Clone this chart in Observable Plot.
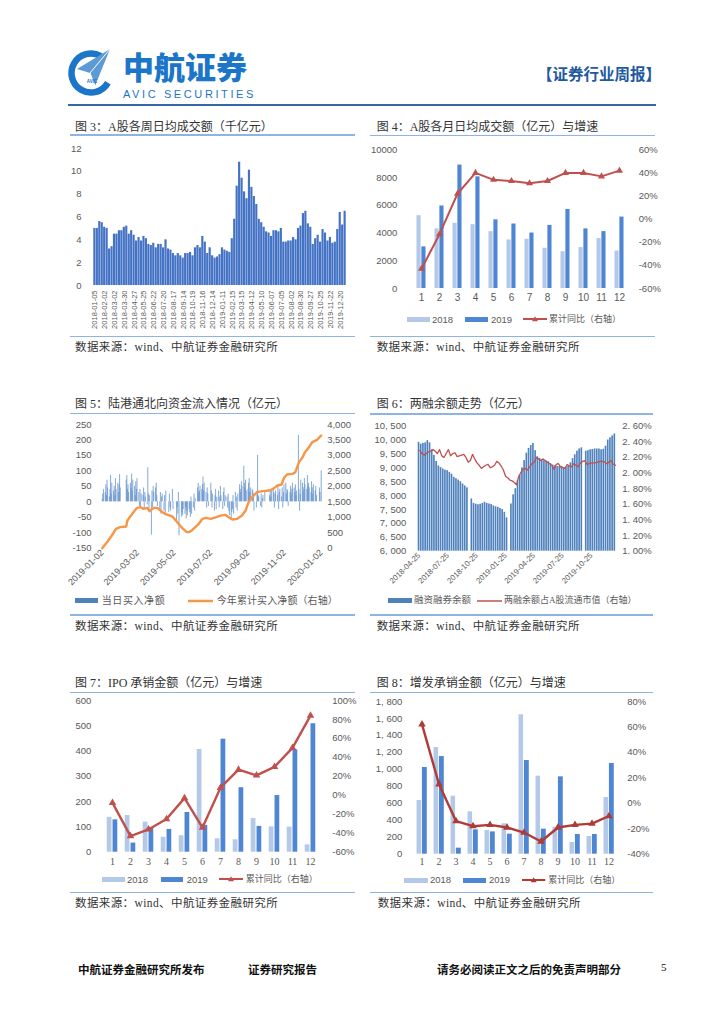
<!DOCTYPE html>
<html><head><meta charset="utf-8">
<script src="https://cdn.jsdelivr.net/npm/d3@7"></script>
<script src="https://cdn.jsdelivr.net/npm/@observablehq/plot@0.6"></script>
<style>
body{margin:0;background:#fff;}
#page{position:relative;width:724px;height:1024px;overflow:hidden;background:#fff;}
</style></head>
<body><div id="page"></div>
<script>
// ---------- DATA ----------
// Fig 3: weekly average turnover (千亿元)
const weeklyTurnover = [5.0,5.0,5.6,5.5,5.1,5.0,3.2,3.4,4.5,4.5,
 4.8,4.8,5.1,5.2,4.5,4.8,4.4,3.9,4.2,3.9,
 4.3,4.1,3.6,3.5,3.7,3.3,3.6,3.6,3.3,4.0,
 3.2,3.1,2.8,2.6,2.8,2.6,2.4,2.8,2.8,2.9,
 2.6,3.3,3.5,3.3,4.3,3.8,2.8,3.3,2.6,2.4,
 2.5,2.7,3.3,3.1,3.0,2.9,4.1,5.8,8.7,10.8,
 9.4,8.2,7.6,10.1,8.6,7.8,7.1,5.8,5.5,5.1,
 4.7,4.6,4.3,4.8,4.8,4.7,5.0,3.8,3.8,3.9,
 3.9,4.2,4.0,5.0,5.2,6.3,6.5,5.4,5.1,3.6,
 4.1,4.4,3.8,4.9,4.6,3.9,4.2,3.7,3.8,4.9,
 6.4,5.3,6.5];
const weekTickLabels = ["2018-01-05","2018-02-02","2018-03-02","2018-03-30","2018-04-27","2018-05-25","2018-06-22","2018-07-20","2018-08-17","2018-09-14","2018-10-19","2018-11-16","2018-12-14","2019-01-11","2019-02-15","2019-03-15","2019-04-12","2019-05-10","2019-06-07","2019-07-05","2019-08-02","2019-08-30","2019-09-27","2019-10-25","2019-11-22","2019-12-20"];

// Fig 4: monthly average turnover (亿元) and cumulative YoY (%)
const months = [1,2,3,4,5,6,7,8,9,10,11,12];
const turnover2018 = [5250,4300,4700,4600,4100,3500,3550,2900,2650,2950,3600,2700];
const turnover2019 = [3000,5950,8900,8050,4950,4650,4000,4550,5700,4300,4100,5150];
const turnoverYoY = [-43,-13,22,40,34,33,31,33,40,40,37,42];

// Fig 5: northbound daily net buying (亿元), weekdays from 2019-01-02
const nbDaily = [8,25,40,
 30,55,20,70,45, 15,40,85,25,60, 35,50,20,75,40, 60,30,55,88,45, 0,0,0,0,0,
 70,85,40,55,30, 60,45,90,35,70, 50,20,65,40,75, 30,-15,40,-20,25, 20,45,-25,30,15,
 -10,110,25,-30,20, -108,35,-20,50,30, 45,60,20,-15,0, -25,30,-40,15,25, -30,20,-45,35,0,
 0,-35,25,-20,-30, 40,-25,0,0,0, -65,-20,-40,30,-110, 0,-50,-35,-45,-25, -40,-20,-55,-30,-45,
 -25,-35,-50,15,-40, -20,25,-30,10,0, 45,60,30,35,50, 40,55,80,35,60, 30,-20,45,25,-15,
 0,60,35,-20,25, -30,20,40,-25,15, 35,-20,15,50,20, -25,30,45,-15,20, 15,-20,25,-30,-45,
 -60,-35,-25,20,-40, 30,-20,15,-30,25, 55,40,30,65,50, 115,60,45,70,35, 40,60,75,30,45,
 40,35,25,-30,0, -20,30,150,20,15, -15,25,-20,10,20, 30,0,0,0,0, 0,20,35,15,40,
 45,30,-20,25,35, 20,50,-25,30,40, 15,45,-20,30,55, 60,25,40,35,-15, 30,50,25,40,60,
 45,30,55,20,35, 215,40,-30,25,70, 60,45,35,75,55, 40,85,50,60,45, 30,65,45,25,55,
 35,50,20,0,0, 45,30,0,100];
const nbCumDates = ["2019-01-02","2019-01-10","2019-01-18","2019-01-25","2019-02-01","2019-02-11","2019-02-13","2019-02-21","2019-03-01","2019-03-07","2019-03-12","2019-03-18","2019-03-22","2019-03-29","2019-04-04","2019-04-12","2019-04-19","2019-04-29","2019-05-07","2019-05-15","2019-05-23","2019-05-27","2019-05-31","2019-06-06","2019-06-12","2019-06-18","2019-06-24","2019-07-02","2019-07-10","2019-07-18","2019-07-26","2019-08-01","2019-08-07","2019-08-15","2019-08-23","2019-08-29","2019-09-03","2019-09-09","2019-09-17","2019-09-26","2019-10-08","2019-10-14","2019-10-21","2019-10-28","2019-11-01","2019-11-06","2019-11-15","2019-11-20","2019-11-26","2019-12-02","2019-12-06","2019-12-12","2019-12-18","2019-12-26","2020-01-02"];
const nbCumValues = [0,194,410,625,680,700,895,1110,1305,1326,1272,1305,1197,1305,1305,1165,1090,1025,840,660,520,520,570,680,790,950,980,950,1000,1055,1078,1000,927,950,1055,1218,1488,1650,1811,1844,1865,1920,2027,2059,2275,2383,2404,2458,2782,2943,3105,3245,3428,3504,3644];
const nbTickDates = ["2019-01-02","2019-03-02","2019-05-02","2019-07-02","2019-09-02","2019-11-02","2020-01-02"];

// Fig 6: margin balance (亿元), weekly from 2018-04-27, and ratio to float cap (%)
const marginBalance = [9920,9850,9880,9900,9980,9900,9650,9450,9230,9070,
 9010,8960,8920,8900,8840,8770,8660,8610,8560,8500,
 8420,8350,8280,null,7880,7720,7690,7670,7690,7720,
 7760,7720,7700,7680,7630,7600,7580,7540,7500,7400,
 7200,null,7700,8030,8250,8540,8740,9000,9260,9530,
 9700,9800,9880,9620,9400,9340,9300,9260,9240,9220,
 9150,9100,9080,9050,9050,9050,9000,9010,9060,9180,
 9330,9470,9600,9680,9720,null,9600,9620,9650,9660,
 9680,9680,9680,9650,9670,9780,10000,10080,10150,10220];
const marginRatio = [2.29,2.25,2.23,2.25,2.27,2.28,2.30,2.28,2.25,2.30,
 2.22,2.20,2.25,2.30,2.22,2.25,2.26,2.21,2.22,2.23,
 2.24,2.20,2.14,2.16,2.24,2.18,2.13,2.10,2.06,2.08,
 2.10,2.11,2.07,2.08,2.10,2.15,2.13,2.09,2.04,1.96,
 1.94,1.91,1.90,1.88,1.85,1.96,2.01,2.05,2.06,2.04,
 2.08,2.12,2.14,2.20,2.18,2.16,2.18,2.16,2.14,2.12,
 2.10,2.05,2.11,2.12,2.08,2.07,2.06,2.11,2.09,2.08,
 2.12,2.10,2.08,2.13,2.15,2.16,2.11,2.12,2.13,2.13,
 2.13,2.14,2.15,2.15,2.14,2.12,2.14,2.16,2.11,2.10];
const marginTickDates = ["2018-04-25","2018-07-25","2018-10-25","2019-01-25","2019-04-25","2019-07-25","2019-10-25"];

// Fig 7: IPO underwriting (亿元) and cumulative YoY (%)
const ipo2018 = [138,145,119,59,65,406,53,49,133,100,99,29];
const ipo2019 = [128,36,96,90,157,106,447,255,102,224,405,508];
const ipoYoY = [-8,-43,-36,-25,-3,-34,8,27,21,30,50,84];

// Fig 8: follow-on underwriting (亿元) and cumulative YoY (%)
const seo2018 = [633,1257,684,499,279,358,1643,920,318,138,208,668];
const seo2019 = [1022,1151,71,287,263,236,1104,295,912,232,232,1069];
const seoYoY = [62,15,-14,-18,-17,-19,-23,-30,-19,-17,-16,-10];

// ---------- HELPERS ----------
const page = document.getElementById("page");
const CJK = "'Liberation Serif','Noto Sans CJK SC',serif";
const SANS = "'Liberation Sans',Arial,'Noto Sans CJK SC',sans-serif";
const LIGHT = "#b4c8e8", DARK = "#4e86d4", RED = "#c0504d";
function el(tag, css, txt) { const e = document.createElement(tag); e.style.cssText = css; if (txt != null) e.textContent = txt; page.appendChild(e); return e; }
function text(x, yc, s, size, o = {}) {
  const lh = size * (o.lh || 1.2);
  return el("div", `position:absolute;left:${x}px;top:${yc - lh / 2}px;font-size:${size}px;line-height:${lh}px;white-space:nowrap;font-family:${o.font || CJK};color:${o.color || "#333"};letter-spacing:${o.ls || 0}px;font-weight:${o.weight || 400}`, s);
}
function hrule(x1, x2, y, h, color) { el("div", `position:absolute;left:${x1}px;top:${y - h / 2}px;width:${x2 - x1}px;height:${h}px;background:${color}`); }
function sw(x, yc, w, h, color) { el("div", `position:absolute;left:${x}px;top:${yc - h / 2}px;width:${w}px;height:${h}px;background:${color}`); }
function lineSw(x1, x2, yc, color, w, tri) {
  const ns = "http://www.w3.org/2000/svg";
  const s = document.createElementNS(ns, "svg");
  s.setAttribute("width", x2 - x1); s.setAttribute("height", 10);
  s.style.cssText = `position:absolute;left:${x1}px;top:${yc - 5}px;overflow:visible`;
  const l = document.createElementNS(ns, "line");
  l.setAttribute("x1", 0); l.setAttribute("x2", x2 - x1); l.setAttribute("y1", 5); l.setAttribute("y2", 5);
  l.setAttribute("stroke", color); l.setAttribute("stroke-width", w);
  s.appendChild(l);
  if (tri) {
    const m = (x2 - x1) / 2, p = document.createElementNS(ns, "path");
    p.setAttribute("d", `M${m},2.2 L${m + 3},7.3 L${m - 3},7.3 Z`); p.setAttribute("fill", color);
    s.appendChild(p);
  }
  page.appendChild(s);
}
function place(svg, x, y) { svg.style.position = "absolute"; svg.style.left = x + "px"; svg.style.top = y + "px"; page.appendChild(svg); }
const baseStyle = {fontFamily: SANS, fontSize: "9.5px", color: "#595959", background: "transparent", overflow: "visible"};
const num = d => String(Math.round(d));
const pct = d => Math.round(d) + "%";
const commaSp = d => d3.format(",")(d).replace(",", ", ");
const parseD = d3.timeParse("%Y-%m-%d");
const fmtD = d3.timeFormat("%Y-%m-%d");

// ---------- HEADER ----------
(function header() {
  const ns = "http://www.w3.org/2000/svg";
  const s = document.createElementNS(ns, "svg");
  s.setAttribute("width", 60); s.setAttribute("height", 60);
  s.style.cssText = "position:absolute;left:62px;top:42px";
  s.innerHTML = `<path d="M38.75,14.1 A19.5,19.5 0 1 0 45.9,40.75" fill="none" stroke="#1b75c8" stroke-width="6.5"/>
  <polygon points="48,7 15,27 28,31 33,44" fill="#5e9ad6"/>
  <polyline points="48,7 28,31 33,44" fill="none" stroke="#fff" stroke-width="1"/>
  <text x="30" y="40.5" font-size="4.5" font-family="Liberation Sans" fill="#1b75c8" text-anchor="middle" font-weight="bold">AVIC</text>`;
  page.appendChild(s);
  text(123, 65.5, "中航证券", 31, {font: "'Noto Sans CJK SC'", color: "#1b75c8", weight: 900, lh: 1});
  text(123, 94.5, "AVIC SECURITIES", 11, {font: SANS, color: "#1b75c8", ls: 2.6, lh: 1});
  text(537, 74, "【证券行业周报】", 15.5, {font: "'Noto Sans CJK SC'", color: "#1f5aa0", weight: 700, lh: 1});
  hrule(68, 656, 105, 2.5, "#3568a8");
})();

// ---------- TITLES / RULES / SOURCES ----------
const RULE = "#8db4e2";
const SRC = "数据来源：wind、中航证券金融研究所";
text(75, 126.7, "图 3：A股各周日均成交额（千亿元）", 12);
text(376.7, 126.7, "图 4：A股各月日均成交额（亿元）与增速", 12);
hrule(70, 355, 135, 1.6, RULE); hrule(370, 655, 135.5, 1.6, RULE);
hrule(70, 355, 336.7, 1.6, RULE); hrule(370, 655, 336.7, 1.6, RULE);
text(75, 347.5, SRC, 11.5, {ls: 0.4}); text(376.7, 347.5, SRC, 11.5, {ls: 0.4});

text(75, 404, "图 5：陆港通北向资金流入情况（亿元）", 12);
text(376.7, 404, "图 6：两融余额走势（亿元）", 12);
hrule(70, 355, 413.3, 1.6, RULE); hrule(370, 653, 414, 1.6, RULE);
hrule(70, 355, 615, 1.6, RULE); hrule(370, 653, 615, 1.6, RULE);
text(75, 626.5, SRC, 11.5, {ls: 0.4}); text(376.7, 626.5, SRC, 11.5, {ls: 0.4});

text(75, 683.3, "图 7：IPO 承销金额（亿元）与增速", 12);
text(376.7, 683.3, "图 8：增发承销金额（亿元）与增速", 12);
hrule(70, 355, 692.7, 1.6, RULE); hrule(370, 653, 692.7, 1.6, RULE);
hrule(70, 355, 892.7, 1.6, RULE); hrule(370, 653, 892.7, 1.6, RULE);
text(75, 903.5, SRC, 11.5, {ls: 0.4}); text(377.7, 903.5, SRC, 11.5, {ls: 0.4});

// ---------- FIG 3 ----------
place(Plot.plot({
  width: 285, height: 195, marginTop: 8, marginRight: 9, marginBottom: 50, marginLeft: 23,
  style: baseStyle,
  x: {type: "band", domain: d3.range(weeklyTurnover.length), padding: 0.12},
  y: {domain: [0, 12]},
  marks: [
    Plot.barY(weeklyTurnover, {x: (d, i) => i, y: d => d, fill: "#4472c4"}),
    Plot.axisY(d3.range(0, 13, 2), {tickSize: 0, tickPadding: 12, tickFormat: num, label: null}),
    Plot.axisX(weekTickLabels.map((_, k) => k * 4), {tickSize: 0, tickPadding: 5, tickRotate: -90, tickFormat: i => weekTickLabels[i / 4], fontSize: 7.5, label: null})
  ]
}), 70, 140);

// ---------- FIG 4 ----------
{
  const toL = r => (r + 60) / 120 * 10000, fromL = v => v / 10000 * 120 - 60;
  place(Plot.plot({
    width: 290, height: 168, marginTop: 9.3, marginRight: 24.8, marginBottom: 20, marginLeft: 44.8,
    style: baseStyle,
    x: {type: "band", domain: months, padding: 0},
    y: {domain: [0, 10000]},
    marks: [
      Plot.barY(months, {x: d => d, y: (d, i) => turnover2018[i], fill: LIGHT, insetLeft: 4.48, insetRight: 9.38}),
      Plot.barY(months, {x: d => d, y: (d, i) => turnover2019[i], fill: DARK, insetLeft: 9.38, insetRight: 4.48}),
      Plot.lineY(months, {x: d => d, y: (d, i) => toL(turnoverYoY[i]), stroke: RED, strokeWidth: 2}),
      Plot.dot(months, {x: d => d, y: (d, i) => toL(turnoverYoY[i]), symbol: "triangle", r: 2.6, fill: RED}),
      Plot.axisY(d3.range(0, 10001, 2000), {tickSize: 0, tickPadding: 13, tickFormat: num, label: null}),
      Plot.axisY(d3.range(-60, 61, 20).map(toL), {anchor: "right", tickSize: 0, tickPadding: 8, tickFormat: v => pct(fromL(v)), label: null}),
      Plot.axisX(months, {tickSize: 0, tickPadding: 5, fontSize: 10, label: null})
    ]
  }), 365, 140);
  sw(406.7, 319.3, 23.3, 5, LIGHT); text(432, 319.3, "2018", 9.5, {font: SANS, color: "#595959"});
  sw(465, 319.3, 23.3, 5, DARK); text(491, 319.3, "2019", 9.5, {font: SANS, color: "#595959"});
  lineSw(523, 547, 319.3, RED, 2, true); text(549, 319.3, "累计同比（右轴）", 9, {color: "#595959"});
}

// ---------- FIG 5 ----------
{
  const nbDates = d3.timeDay.range(new Date(2019, 0, 2), new Date(2020, 0, 3)).filter(d => d.getDay() % 6 !== 0);
  const nbTable = nbDaily.slice(0, nbDates.length).map((v, i) => ({date: nbDates[i], v}));
  const cumTable = nbCumDates.map((d, i) => ({date: parseD(d), v: nbCumValues[i]}));
  const toL = r => -150 + r / 10, fromL = v => (v + 150) * 10;
  place(Plot.plot({
    width: 290, height: 173.7, marginTop: 10, marginRight: 39.3, marginBottom: 40, marginLeft: 31.7,
    style: baseStyle,
    x: {type: "time", domain: [new Date(2019, 0, 2), new Date(2020, 0, 2)]},
    y: {domain: [-150, 250]},
    marks: [
      Plot.ruleX(nbTable, {x: "date", y: "v", stroke: "#5b8cc8", strokeWidth: 0.75}),
      Plot.line(cumTable, {x: "date", y: d => toL(d.v), stroke: "#f79646", strokeWidth: 2.4}),
      Plot.axisY(d3.range(-150, 251, 50), {tickSize: 0, tickPadding: 10.7, tickFormat: num, label: null}),
      Plot.axisY(d3.range(0, 4001, 500).map(toL), {anchor: "right", tickSize: 0, tickPadding: 6, tickFormat: v => d3.format(",")(Math.round(fromL(v))), label: null}),
      Plot.axisX(nbTickDates.map(parseD), {tickSize: 0, tickPadding: 3, tickRotate: -45, tickFormat: fmtD, fontSize: 9, label: null})
    ]
  }), 70, 414);
  sw(75, 600.7, 23, 5.5, "#4f81bd"); text(101.7, 600.7, "当日买入净额", 10, {color: "#595959", ls: 0.6});
  lineSw(188, 213, 600.7, "#f79646", 2.5, false); text(216.7, 600.7, "今年累计买入净额（右轴）", 10, {color: "#595959", ls: 0.1});
}

// ---------- FIG 6 ----------
{
  const mDates = d3.timeFriday.range(new Date(2018, 3, 27), new Date(2020, 0, 11));
  const mTable = marginBalance.map((b, i) => ({date: mDates[i], bal: b, ratio: marginRatio[i]}));
  const toL = r => 6000 + (r - 1) / 1.6 * 4500, fromL = v => 1 + (v - 6000) / 4500 * 1.6;
  place(Plot.plot({
    width: 290, height: 176.7, marginTop: 11.7, marginRight: 39.3, marginBottom: 40, marginLeft: 52.7,
    style: baseStyle,
    x: {type: "time", domain: [new Date(2018, 3, 22), new Date(2020, 0, 12)]},
    y: {domain: [6000, 10500]},
    marks: [
      Plot.rectY(mTable, {x: "date", interval: d3.timeWeek, y1: () => 6000, y2: "bal", fill: "#4f81bd", insetRight: 0.55}),
      Plot.line(mTable, {x: "date", y: d => toL(d.ratio), stroke: RED, strokeWidth: 1.3}),
      Plot.axisY(d3.range(6000, 10501, 500), {tickSize: 0, tickPadding: 12, tickFormat: commaSp, label: null}),
      Plot.axisY(d3.range(1.0, 2.61, 0.2).map(toL), {anchor: "right", tickSize: 0, tickPadding: 6, tickFormat: v => fromL(v).toFixed(2).replace(".", ". ") + "%", label: null}),
      Plot.axisX(marginTickDates.map(parseD), {tickSize: 0, tickPadding: 3, tickRotate: -45, tickFormat: fmtD, fontSize: 7.8, label: null})
    ]
  }), 365, 414);
  sw(388, 600.7, 23.7, 5.5, "#4f81bd"); text(414, 600.7, "融资融券余额", 9.5, {color: "#595959"});
  lineSw(476.7, 501.7, 600.7, RED, 1.5, false); text(504, 600.7, "两融余额占A股流通市值（右轴）", 9, {color: "#595959"});
}

// ---------- FIG 7 ----------
{
  const toL = r => (r + 60) / 160 * 600, fromL = v => v / 600 * 160 - 60;
  place(Plot.plot({
    width: 290, height: 179.7, marginTop: 10, marginRight: 35.5, marginBottom: 18, marginLeft: 28.3,
    style: baseStyle,
    x: {type: "band", domain: months, padding: 0},
    y: {domain: [0, 600]},
    marks: [
      Plot.barY(months, {x: d => d, y: (d, i) => ipo2018[i], fill: LIGHT, insetLeft: 3.73, insetRight: 9.53}),
      Plot.barY(months, {x: d => d, y: (d, i) => ipo2019[i], fill: DARK, insetLeft: 9.53, insetRight: 3.73}),
      Plot.lineY(months, {x: d => d, y: (d, i) => toL(ipoYoY[i]), stroke: RED, strokeWidth: 2.4}),
      Plot.dot(months, {x: d => d, y: (d, i) => toL(ipoYoY[i]), symbol: "triangle", r: 2.8, fill: RED}),
      Plot.axisY(d3.range(0, 601, 100), {tickSize: 0, tickPadding: 7.6, tickFormat: num, label: null}),
      Plot.axisY(d3.range(-60, 101, 20).map(toL), {anchor: "right", tickSize: 0, tickPadding: 7.3, tickFormat: v => pct(fromL(v)), label: null}),
      Plot.axisX(months, {tickSize: 0, tickPadding: 5.5, fontSize: 10, fontFamily: "'Liberation Serif',serif", label: null})
    ]
  }), 70, 690);
  sw(101.7, 879.3, 23.3, 5, LIGHT); text(127, 879.3, "2018", 9.5, {font: SANS, color: "#595959"});
  sw(160.7, 879.3, 22.6, 5, DARK); text(186.7, 879.3, "2019", 9.5, {font: SANS, color: "#595959"});
  lineSw(219, 243, 879.3, RED, 2, true); text(245.7, 879.3, "累计同比（右轴）", 9, {color: "#595959"});
}

// ---------- FIG 8 ----------
{
  const RED8 = "#b03a36";
  const toL = r => (r + 40) / 120 * 1800, fromL = v => v / 1800 * 120 - 40;
  place(Plot.plot({
    width: 290, height: 179.7, marginTop: 11, marginRight: 33.8, marginBottom: 16, marginLeft: 44.5,
    style: baseStyle,
    x: {type: "band", domain: months, padding: 0},
    y: {domain: [0, 1800]},
    marks: [
      Plot.barY(months, {x: d => d, y: (d, i) => seo2018[i], fill: LIGHT, insetLeft: 3.52, insetRight: 8.92}),
      Plot.barY(months, {x: d => d, y: (d, i) => seo2019[i], fill: DARK, insetLeft: 8.92, insetRight: 3.22}),
      Plot.lineY(months, {x: d => d, y: (d, i) => toL(seoYoY[i]), stroke: RED8, strokeWidth: 2.4}),
      Plot.dot(months, {x: d => d, y: (d, i) => toL(seoYoY[i]), symbol: "triangle", r: 2.8, fill: RED8}),
      Plot.axisY(d3.range(0, 1801, 200), {tickSize: 0, tickPadding: 7.8, tickFormat: commaSp, label: null}),
      Plot.axisY(d3.range(-40, 81, 20).map(toL), {anchor: "right", tickSize: 0, tickPadding: 5.6, tickFormat: v => pct(fromL(v)), label: null}),
      Plot.axisX(months, {tickSize: 0, tickPadding: 4, fontSize: 10, fontFamily: "'Liberation Serif',serif", label: null})
    ]
  }), 365, 690);
  sw(404.3, 880, 23.4, 5, LIGHT); text(430, 880, "2018", 9.5, {font: SANS, color: "#595959"});
  sw(463.3, 880, 22.4, 5, DARK); text(489, 880, "2019", 9.5, {font: SANS, color: "#595959"});
  lineSw(521.7, 545, 880, RED8, 2, true); text(548.3, 880, "累计同比（右轴）", 9, {color: "#595959"});
}

// ---------- FOOTER ----------
text(78, 970, "中航证券金融研究所发布", 11.5, {font: "'Noto Sans CJK SC'", color: "#111", weight: 700});
text(248, 970, "证券研究报告", 11.5, {font: "'Noto Sans CJK SC'", color: "#111", weight: 700});
text(437, 970, "请务必阅读正文之后的免责声明部分", 11.5, {font: "'Noto Sans CJK SC'", color: "#111", weight: 700});
text(661, 968, "5", 11, {font: "'Liberation Serif',serif", color: "#111"});
</script>
</body></html>
